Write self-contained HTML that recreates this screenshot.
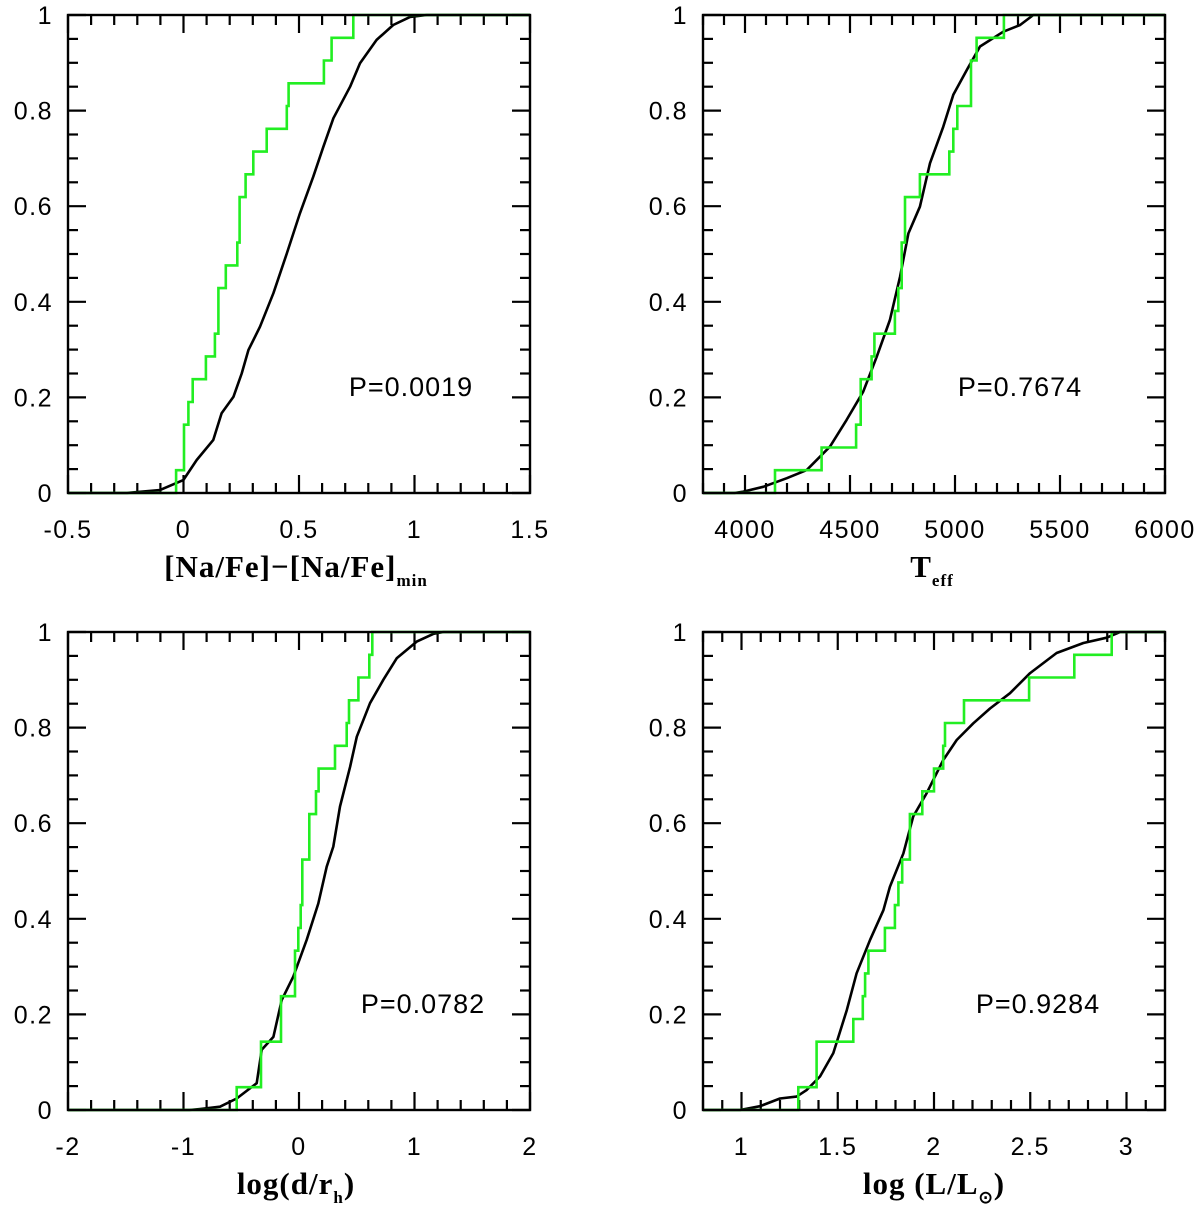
<!DOCTYPE html>
<html><head><meta charset="utf-8"><style>
html,body{margin:0;padding:0;background:#fff;}
svg{display:block;}
.tl{font-family:"Liberation Sans",sans-serif;font-size:25px;letter-spacing:1.5px;fill:#000;}
.at{font-family:"Liberation Serif",serif;font-weight:bold;font-size:31px;letter-spacing:1px;fill:#000;}
</style></head><body>
<svg id="fig" width="1200" height="1209" viewBox="0 0 1200 1209" xmlns="http://www.w3.org/2000/svg" style="position:absolute;left:0;top:0"></svg>
<script>
// ---- Panel A: [Na/Fe]
const naBlackX=[-0.5,-0.246,-0.102,-0.001,0.057,0.129,0.165,0.216,0.252,0.281,0.331,0.389,0.447,0.504,0.562,0.605,0.649,0.721,0.764,0.836,0.908,0.981,1.053,1.5];
const naBlackY=[0,0,0.006,0.027,0.069,0.111,0.167,0.201,0.250,0.299,0.348,0.418,0.501,0.585,0.662,0.724,0.784,0.850,0.899,0.948,0.979,0.996,1,1];
const naStepX=[-0.032,0.002,0.021,0.040,0.097,0.136,0.151,0.183,0.233,0.243,0.269,0.302,0.360,0.447,0.455,0.608,0.641,0.735];
const naStepN=[1,3,4,5,6,7,9,10,11,13,14,15,16,17,18,19,20,21];
// ---- Panel B: Teff
const tBlackX=[3800,3950,3992,4087,4199,4294,4405,4484,4563,4627,4690,4738,4778,4833,4881,4944,4992,5056,5119,5230,5310,5373,6000];
const tBlackY=[0,0,0.003,0.013,0.031,0.048,0.097,0.153,0.212,0.285,0.362,0.452,0.543,0.599,0.690,0.766,0.833,0.885,0.934,0.965,0.979,1,1];
const tStepX=[4143,4365,4529,4551,4603,4616,4714,4730,4746,4762,4833,4973,4992,5011,5076,5103,5233];
const tStepN=[1,2,3,5,6,7,8,9,11,13,14,15,16,17,19,20,21];
// ---- Panel C: log(d/rh)
const dBlackX=[-2,-0.95,-0.857,-0.684,-0.539,-0.366,-0.323,-0.222,-0.150,-0.049,0.067,0.167,0.240,0.297,0.355,0.442,0.500,0.615,0.730,0.846,1.019,1.163,1.25,2];
const dBlackY=[0,0,0.002,0.007,0.024,0.056,0.126,0.153,0.230,0.279,0.356,0.432,0.509,0.551,0.635,0.718,0.781,0.851,0.900,0.945,0.980,0.996,1,1];
const dStepX=[-0.539,-0.329,-0.156,-0.035,-0.006,0.015,0.029,0.089,0.147,0.170,0.312,0.413,0.433,0.514,0.609,0.635];
const dStepN=[1,3,5,7,8,9,11,13,14,15,16,17,18,19,20,21];
// ---- Panel D: log(L/Lsun)
const lBlackX=[0.8,0.992,1.096,1.200,1.287,1.339,1.408,1.477,1.547,1.598,1.668,1.737,1.771,1.841,1.892,1.962,2.048,2.118,2.204,2.291,2.395,2.499,2.637,2.776,2.897,2.966,3.2];
const lBlackY=[0,0,0.008,0.024,0.028,0.042,0.070,0.119,0.209,0.286,0.356,0.418,0.467,0.537,0.614,0.663,0.732,0.774,0.809,0.840,0.872,0.914,0.956,0.977,0.988,1,1];
const lStepX=[1.295,1.390,1.581,1.630,1.642,1.659,1.745,1.797,1.815,1.835,1.875,1.939,2.000,2.048,2.057,2.156,2.494,2.729,2.923];
const lStepN=[1,3,4,5,6,7,8,9,10,11,13,14,15,16,17,18,19,20,21];
const nStars=21;
const pLabels=["P=0.0019","P=0.7674","P=0.0782","P=0.9284"];
const xTickA=["-0.5","0","0.5","1","1.5"];
const xTickB=["4000","4500","5000","5500","6000"];
const xTickC=["-2","-1","0","1","2"];
const xTickD=["1","1.5","2","2.5","3"];
const yTickLabels=["0","0.2","0.4","0.6","0.8","1"];

const NS="http://www.w3.org/2000/svg";
const svg=document.getElementById('fig');
function mk(tag,attrs,parent){const e=document.createElementNS(NS,tag);for(const k in attrs)e.setAttribute(k,attrs[k]);(parent||svg).appendChild(e);return e;}

const panels=[
 {key:'na',x0:68,x1:530,y0:493,y1:15,xmin:-0.5,xmax:1.5,minor:0.1,major:0.5,ticks:[-0.5,0,0.5,1,1.5],tl:xTickA,bx:naBlackX,by:naBlackY,sx:naStepX,sn:naStepN,p:pLabels[0],px:411,py:396},
 {key:'teff',x0:703,x1:1165,y0:493,y1:15,xmin:3800,xmax:6000,minor:100,major:500,ticks:[4000,4500,5000,5500,6000],tl:xTickB,bx:tBlackX,by:tBlackY,sx:tStepX,sn:tStepN,p:pLabels[1],px:1020,py:396},
 {key:'dist',x0:68,x1:530,y0:1110,y1:632,xmin:-2,xmax:2,minor:0.2,major:1,ticks:[-2,-1,0,1,2],tl:xTickC,bx:dBlackX,by:dBlackY,sx:dStepX,sn:dStepN,p:pLabels[2],px:423,py:1013},
 {key:'lum',x0:703,x1:1165,y0:1110,y1:632,xmin:0.8,xmax:3.2,minor:0.1,major:0.5,ticks:[1,1.5,2,2.5,3],tl:xTickD,bx:lBlackX,by:lBlackY,sx:lStepX,sn:lStepN,p:pLabels[3],px:1038,py:1013}
];

panels.forEach(P=>{
  const g=mk('g',{});
  
  
  const X=v=>P.x0+(v-P.xmin)/(P.xmax-P.xmin)*(P.x1-P.x0);
  const Y=v=>P.y0+v*(P.y1-P.y0);
  const tk=mk('g',{stroke:'#000','stroke-width':2.2,fill:'none'},g);
  
  
  const nMinor=Math.round((P.xmax-P.xmin)/P.minor);
  for(let i=0;i<=nMinor;i++){
    const v=P.xmin+i*P.minor;
    const isMaj=Math.abs(v/P.major-Math.round(v/P.major))<1e-6;
    const L=isMaj?18:10, x=X(v);
    mk('line',{x1:x,x2:x,y1:P.y0,y2:P.y0-L},tk);
    mk('line',{x1:x,x2:x,y1:P.y1,y2:P.y1+L},tk);
  }
  for(let i=0;i<=20;i++){
    const v=i*0.05, isMaj=(i%4===0), L=isMaj?18:10, y=Y(v);
    mk('line',{x1:P.x0,x2:P.x0+L,y1:y,y2:y},tk);
    mk('line',{x1:P.x1,x2:P.x1-L,y1:y,y2:y},tk);
  }
  P.ticks.forEach((v,i)=>{
    const t=mk('text',{x:X(v),y:P.y0+45,'text-anchor':'middle',class:'tl'},g);
    t.textContent=P.tl[i];
    
    
  });
  yTickLabels.forEach((s,i)=>{
    const t=mk('text',{x:P.x0-15,y:Y(i*0.2)+9,'text-anchor':'end',class:'tl'},g);
    t.textContent=s;
    
    
  });
  const bp=P.bx.map((v,i)=>(i?'L':'M')+X(v).toFixed(1)+','+Y(P.by[i]).toFixed(1)).join('');
  const bl=mk('path',{d:bp,stroke:'#000','stroke-width':2.6,fill:'none','stroke-linejoin':'round'},g);
  
  
  let d='M'+X(P.xmin)+','+Y(0); let prev=0;
  P.sx.forEach((v,i)=>{const x=X(v).toFixed(1);d+='L'+x+','+Y(prev/nStars).toFixed(1)+'L'+x+','+Y(P.sn[i]/nStars).toFixed(1);prev=P.sn[i];});
  d+='L'+X(P.xmax)+','+Y(prev/nStars).toFixed(1);
  const gl=mk('path',{d:d,stroke:'#22ee22','stroke-width':2.6,fill:'none'},g);
  
  
  const fr=mk('rect',{x:P.x0,y:P.y1,width:P.x1-P.x0,height:P.y0-P.y1,fill:'none',stroke:'#000','stroke-width':2.4},g);
  
  
  const pt=mk('text',{x:P.px,y:P.py,'text-anchor':'middle',class:'tl',style:'font-size:27px;letter-spacing:1px'},g);
  pt.textContent=P.p;
  
  
});
</script>
<svg width="1200" height="1209" style="position:absolute;left:0;top:0;pointer-events:none">
<text class="at" x="296" y="577" text-anchor="middle">[Na/Fe]−[Na/Fe]<tspan font-size="17" dy="9">min</tspan></text>
<text class="at" x="932" y="577" text-anchor="middle">T<tspan font-size="17" dy="9">eff</tspan></text>
<text class="at" x="296" y="1194" text-anchor="middle">log(d/r<tspan font-size="17" dy="9">h</tspan><tspan dy="-9">)</tspan></text>
<text class="at" x="934" y="1194" text-anchor="middle">log (L/L<tspan font-size="17" dy="9">⊙</tspan><tspan dy="-9">)</tspan></text>
</svg>
</body></html>
